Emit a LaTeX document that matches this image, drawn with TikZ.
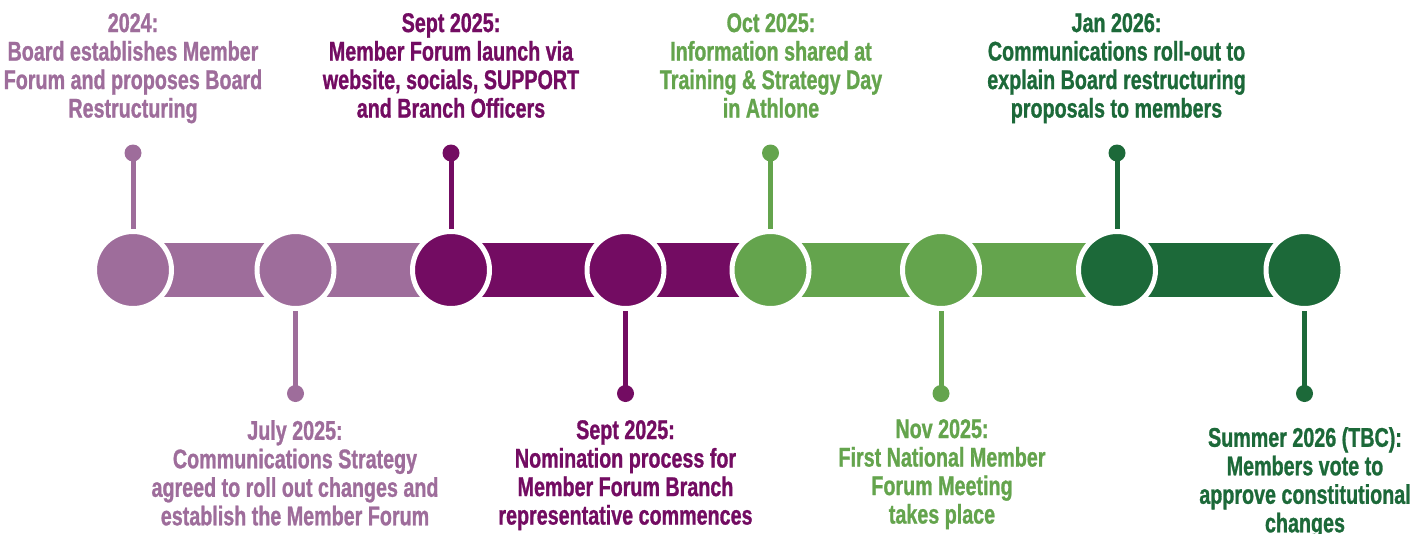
\documentclass[tikz,border=0pt]{standalone}
\usepackage{fontspec}
\newfontfamily\labfont{Liberation Sans}[UprightFont=* Bold, FakeStretch=0.73, FakeBold=1]
\definecolor{lpurple}{HTML}{9E6D9B}
\definecolor{dpurple}{HTML}{730C62}
\definecolor{lgreen}{HTML}{64A44D}
\definecolor{dgreen}{HTML}{1C6939}
\begin{document}
\begin{tikzpicture}[x=1pt,y=-1pt,
  bigdot/.style={circle, minimum size=77pt, inner sep=0pt, line width=5pt, draw=white, fill=#1},
  smalldot/.style={circle, minimum size=17pt, inner sep=0pt, fill=#1},
  stem/.style={line width=5pt, draw=#1},
  barseg/.style={line width=54pt, draw=#1},
  lab/.style={font=\labfont\fontsize{27}{28.5}\selectfont, text=#1, align=center, inner sep=0pt, anchor=north}]
\useasboundingbox (0,0) rectangle (1427,533);
% positions
\coordinate (p1) at (133,270);
\coordinate (p2) at (295.5,270);
\coordinate (p3) at (451,270);
\coordinate (p4) at (625.5,270);
\coordinate (p5) at (770.5,270);
\coordinate (p6) at (941,270);
\coordinate (p7) at (1117,270);
\coordinate (p8) at (1304.5,270);
% bar segments
\draw[barseg=lpurple] (p1) -- (p2);
\draw[barseg=lpurple] (p2) -- (p3);
\draw[barseg=dpurple] (p3) -- (p4);
\draw[barseg=dpurple] (p4) -- (p5);
\draw[barseg=lgreen] (p5) -- (p6);
\draw[barseg=lgreen] (p6) -- (p7);
\draw[barseg=dgreen] (p7) -- (p8);
% circles
\node[bigdot=lpurple] (c1) at (p1) {};
\node[bigdot=lpurple] (c2) at (p2) {};
\node[bigdot=dpurple] (c3) at (p3) {};
\node[bigdot=dpurple] (c4) at (p4) {};
\node[bigdot=lgreen] (c5) at (p5) {};
\node[bigdot=lgreen] (c6) at (p6) {};
\node[bigdot=dgreen] (c7) at (p7) {};
\node[bigdot=dgreen] (c8) at (p8) {};
% small dots
\node[smalldot=lpurple] (d1) at (133,153) {};
\node[smalldot=lpurple] (d2) at (295.5,393.5) {};
\node[smalldot=dpurple] (d3) at (451,153) {};
\node[smalldot=dpurple] (d4) at (625.5,393.5) {};
\node[smalldot=lgreen] (d5) at (770.5,153) {};
\node[smalldot=lgreen] (d6) at (941,393.5) {};
\node[smalldot=dgreen] (d7) at (1117,153) {};
\node[smalldot=dgreen] (d8) at (1304.5,393.5) {};
% stems
\draw[stem=lpurple] (d1.center) -- (c1);
\draw[stem=lpurple] (d2.center) -- (c2);
\draw[stem=dpurple] (d3.center) -- (c3);
\draw[stem=dpurple] (d4.center) -- (c4);
\draw[stem=lgreen] (d5.center) -- (c5);
\draw[stem=lgreen] (d6.center) -- (c6);
\draw[stem=dgreen] (d7.center) -- (c7);
\draw[stem=dgreen] (d8.center) -- (c8);
% labels
\node[lab=lpurple] (l1) at (133,13) {2024:\\Board establishes Member\\Forum and proposes Board\\Restructuring};
\node[lab=dpurple] (l3) at (451,13) {Sept 2025:\\Member Forum launch via\\website, socials, SUPPORT\\and Branch Officers};
\node[lab=lgreen] (l5) at (771,13) {Oct 2025:\\Information shared at\\Training \& Strategy Day\\in Athlone};
\node[lab=dgreen] (l7) at (1116.5,13) {Jan 2026:\\Communications roll-out to\\explain Board restructuring\\proposals to members};
\node[lab=lpurple] (l2) at (295,420) {July 2025:\\Communications Strategy\\agreed to roll out changes and\\establish the Member Forum};
\node[lab=dpurple] (l4) at (625.5,420) {Sept 2025:\\Nomination process for\\Member Forum Branch\\representative commences};
\node[lab=lgreen] (l6) at (942,419) {Nov 2025:\\First National Member\\Forum Meeting\\takes place};
\node[lab=dgreen] (l8) at (1305,427) {Summer 2026 (TBC):\\Members vote to\\approve constitutional\\changes};
\end{tikzpicture}
\end{document}
